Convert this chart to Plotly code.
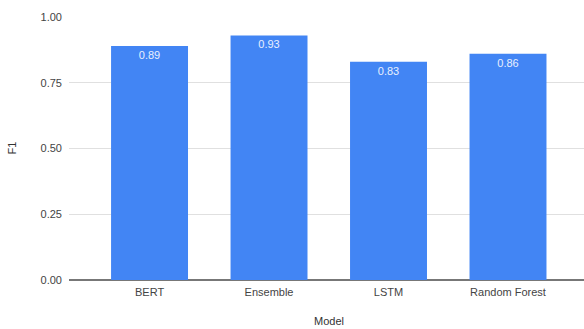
import plotly.graph_objects as go

models = ["BERT", "Ensemble", "LSTM", "Random Forest"]
f1_scores = [0.89, 0.93, 0.83, 0.86]
y_ticks = [0.0, 0.25, 0.5, 0.75, 1.0]
y_tick_labels = ["0.00", "0.25", "0.50", "0.75", "1.00"]

font_family = "Liberation Sans, Arial, sans-serif"

fig = go.Figure(
    go.Bar(
        x=list(range(len(models))),
        y=f1_scores,
        width=0.644,
        marker=dict(color="#4285F4", line=dict(width=0)),
        text=[f"{v:.2f}" for v in f1_scores],
        textposition="inside",
        insidetextanchor="end",
        textangle=0,
        textfont=dict(color="#E8F0FE", size=11, family=font_family),
        cliponaxis=False,
    )
)

fig.update_layout(
    width=584,
    height=329,
    margin=dict(l=69, r=0, t=17, b=49),
    paper_bgcolor="white",
    plot_bgcolor="white",
    showlegend=False,
    font=dict(family=font_family, size=11, color="#444444"),
    xaxis=dict(
        range=[-0.674, 3.636],
        tickmode="array",
        tickvals=list(range(len(models))),
        ticktext=models,
        showgrid=False,
        zeroline=False,
        showline=False,
        ticks="",
        ticklabelstandoff=4,
        tickfont=dict(size=11, color="#444444"),
        fixedrange=True,
    ),
    yaxis=dict(
        range=[0, 1],
        tickmode="array",
        tickvals=y_ticks,
        ticktext=y_tick_labels,
        showgrid=True,
        gridcolor="#E0E0E0",
        gridwidth=1,
        zeroline=True,
        zerolinecolor="#777777",
        zerolinewidth=1.5,
        showline=False,
        ticks="",
        ticklabelstandoff=6,
        tickfont=dict(size=11, color="#444444"),
        fixedrange=True,
    ),
    annotations=[
        dict(text="Model", x=0.505, y=-0.186, xref="paper", yref="paper",
             showarrow=False, font=dict(size=11, color="#333333")),
        dict(text="F1", x=-0.128, y=0.5, xref="paper", yref="paper", textangle=-90,
             showarrow=False, font=dict(size=11, color="#333333")),
    ],
)

fig.write_html("out.html")
